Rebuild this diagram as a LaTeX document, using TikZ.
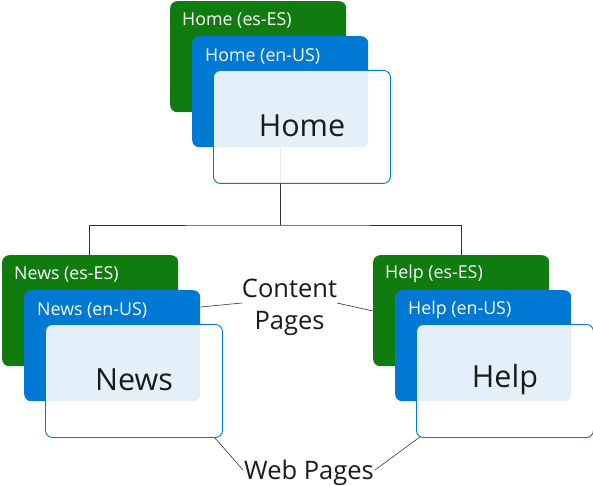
\documentclass[tikz,border=0pt]{standalone}
\usepackage{fontspec}
\setmainfont{Open Sans}
\usetikzlibrary{calc}
\definecolor{msgreen}{HTML}{107C10}
\definecolor{msblue}{HTML}{0078D4}
\definecolor{ink}{HTML}{1A1A1A}
\definecolor{conncol}{HTML}{333333}
\tikzset{
  pagebox/.style={rectangle, rounded corners=7pt, anchor=north west, inner sep=0pt,
    minimum width=176pt, minimum height=111pt},
  gbox/.style={pagebox, fill=msgreen},
  bbox/.style={pagebox, fill=msblue},
  wbox/.style={pagebox, minimum width=177pt, minimum height=113pt, fill=white, fill opacity=0.89,
    draw=msblue, line width=0.9pt},
  smalltext/.style={anchor=west, inner sep=0pt, text=white, font=\fontsize{17.8}{20}\selectfont},
  bigtext/.style={inner sep=0pt, text=ink, font=\fontsize{30.5}{36}\selectfont},
  midtext/.style={inner sep=0pt, text=ink, align=center, font=\fontsize{25.5}{32}\selectfont},
  conn/.style={draw=conncol, line width=0.8pt},
}
\newcommand\pagestack[4]{%
  \node[gbox] (#1-es) at (#2,#3) {};
  \node[smalltext] (#1-est) at ($(#1-es.north west)+(12,19)$) {#4 (es-ES)};
  \node[bbox] (#1-en) at ($(#1-es.north west)+(22,35)$) {};
  \node[smalltext] (#1-ent) at ($(#1-en.north west)+(13,20)$) {#4 (en-US)};
  \node[wbox] (#1-w) at ($(#1-es.north west)+(43,69)$) {};
  \node[bigtext] (#1-wt) at ($(#1-w.north)+(0,56)$) {#4};
}
\begin{document}
\begin{tikzpicture}[x=1pt,y=-1pt]
\useasboundingbox (0,0) rectangle (593,486);
% connector tree (drawn beneath the boxes)
\coordinate (homebot) at (280,147);
\coordinate (hub) at (280,225);
\coordinate (newstop) at (89,255);
\coordinate (helptop) at (461,255);
\draw[conn] (homebot) -- (hub);
\draw[conn] (newstop) |- (hub) -| (helptop);
% page stacks
\pagestack{home}{170}{1}{Home}
\pagestack{news}{2}{255}{News}
\pagestack{help}{373}{255}{Help}
% labels
\node[midtext] (content) at (289.5,307.5) {Content\\Pages};
\node[midtext] (web) at (309,473) {Web Pages};
\coordinate (cl) at (242,303);
\coordinate (cr) at (337,303);
\coordinate (wl) at (243,470);
\coordinate (wr) at (375,470);
\draw[conn, line width=0.6pt] ($(news-en.north east)+(0,17)$) -- (cl);
\draw[conn, line width=0.6pt] (cr) -- ($(help-es.north west)+(0,56)$);
\draw[conn, line width=0.6pt] ($(news-w.south east)+(-8,0)$) -- (wl);
\draw[conn, line width=0.6pt] (wr) -- ($(help-w.south west)+(4,-1)$);
\end{tikzpicture}
\end{document}
